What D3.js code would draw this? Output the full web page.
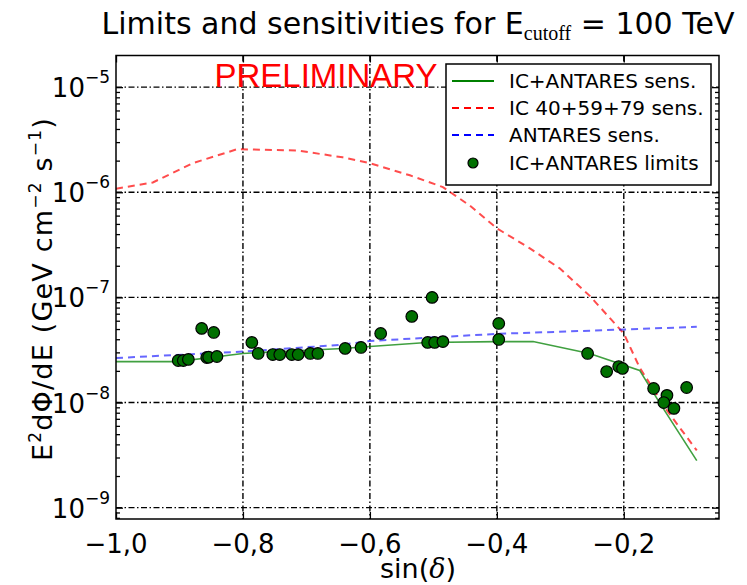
<!DOCTYPE html>
<html><head><meta charset="utf-8">
<script src="https://cdn.jsdelivr.net/npm/d3@7/dist/d3.min.js"></script>
<style>body{margin:0;background:#fff}svg{display:block}</style>
</head><body>
<svg id="chart" width="747" height="585"></svg>
<script>
// ---------- data ----------
const xTicks = [-1.0, -0.8, -0.6, -0.4, -0.2];
const xTickLabels = ["\u22121,0", "\u22120,8", "\u22120,6", "\u22120,4", "\u22120,2"];
const yTicks = [1e-9, 1e-8, 1e-7, 1e-6, 1e-5];
const yTickExps = ["\u22129", "\u22128", "\u22127", "\u22126", "\u22125"];
const legendNames = ["IC+ANTARES sens.", "IC 40+59+79 sens.", "ANTARES sens.", "IC+ANTARES limits"];

// IC+ANTARES sensitivity (green solid)
const combSensSin = [-1.0, -0.904, -0.8, -0.643, -0.6, -0.51, -0.4, -0.343, -0.254, -0.175, -0.143, -0.085];
const combSensVal = [2.45e-8, 2.45e-8, 2.93e-8, 3.27e-8, 3.41e-8, 3.73e-8, 3.8e-8, 3.8e-8, 2.93e-8, 2.02e-8, 9.8e-9, 2.8e-9];

// IC 40+59+79 sensitivity (red dashed)
const icSensSin = [-1.0, -0.942, -0.879, -0.809, -0.715, -0.643, -0.6, -0.537, -0.485, -0.443, -0.4, -0.348, -0.301, -0.254, -0.2, -0.175, -0.132, -0.085];
const icSensVal = [1.08e-6, 1.24e-6, 1.89e-6, 2.57e-6, 2.5e-6, 2.15e-6, 1.89e-6, 1.45e-6, 1.12e-6, 7.5e-7, 4.54e-7, 2.93e-7, 1.89e-7, 1.04e-7, 4.54e-8, 2.15e-8, 8.4e-9, 3.5e-9];

// ANTARES sensitivity (blue dashed)
const antSensSin = [-1.0, -0.8, -0.643, -0.6, -0.4, -0.2, -0.085];
const antSensVal = [2.65e-8, 3.05e-8, 3.55e-8, 3.85e-8, 4.5e-8, 4.95e-8, 5.25e-8];

// IC+ANTARES limits (green points)
const limitSin = [-0.902, -0.894, -0.886, -0.865, -0.857, -0.854, -0.846, -0.841, -0.786, -0.776, -0.753, -0.742, -0.723, -0.713, -0.694, -0.682, -0.639, -0.614, -0.583, -0.534, -0.502, -0.509, -0.498, -0.485, -0.397, -0.397, -0.257, -0.227, -0.208, -0.202, -0.153, -0.132, -0.137, -0.121, -0.101];
const limitVal = [2.51e-8, 2.51e-8, 2.57e-8, 5.07e-8, 2.68e-8, 2.7e-8, 4.64e-8, 2.74e-8, 3.73e-8, 2.93e-8, 2.86e-8, 2.86e-8, 2.86e-8, 2.86e-8, 2.93e-8, 2.93e-8, 3.27e-8, 3.34e-8, 4.54e-8, 6.59e-8, 1.0e-7, 3.73e-8, 3.73e-8, 3.8e-8, 5.65e-8, 3.98e-8, 2.93e-8, 1.97e-8, 2.2e-8, 2.11e-8, 1.36e-8, 1.17e-8, 1.0e-8, 8.8e-9, 1.39e-8];

// ---------- layout ----------
const svg = d3.select("#chart");
const L = 116, R = 719, T = 55.5, B = 519;
const x = d3.scaleLinear().domain([-1.0, -0.05]).range([L, R]);
const y = d3.scaleLog().domain([7.8e-10, 2e-5]).range([B, T]);
const FONT = "DejaVu Sans, sans-serif";

// gridlines
const grid = svg.append("g").attr("stroke", "#000").attr("stroke-width", 1.4)
  .attr("stroke-dasharray", "6,2.5,1.5,2.5").attr("fill", "none");
grid.selectAll("line.v").data(xTicks.slice(1)).join("line")
  .attr("x1", d => x(d)).attr("x2", d => x(d)).attr("y1", T).attr("y2", B);
grid.selectAll("line.h").data(yTicks).join("line")
  .attr("x1", L).attr("x2", R).attr("y1", d => y(d)).attr("y2", d => y(d));

// minor ticks values
const minor = [];
for (let e = -10; e <= -5; e++) for (let k = 2; k <= 9; k++) {
  const v = k * Math.pow(10, e);
  if (v > y.domain()[0] && v < y.domain()[1]) minor.push(v);
}
const ticksG = svg.append("g");
ticksG.append("g").attr("transform", `translate(${L},0)`)
  .call(d3.axisRight(y).tickValues(minor).tickSize(4).tickFormat(""))
  .call(g => g.select(".domain").remove());
ticksG.append("g").attr("transform", `translate(${R},0)`)
  .call(d3.axisLeft(y).tickValues(minor).tickSize(4).tickFormat(""))
  .call(g => g.select(".domain").remove());
ticksG.append("g").attr("transform", `translate(${L},0)`)
  .call(d3.axisRight(y).tickValues(yTicks).tickSize(7).tickFormat(""))
  .call(g => g.select(".domain").remove());
ticksG.append("g").attr("transform", `translate(${R},0)`)
  .call(d3.axisLeft(y).tickValues(yTicks).tickSize(7).tickFormat(""))
  .call(g => g.select(".domain").remove());
ticksG.append("g").attr("transform", `translate(0,${B})`)
  .call(d3.axisTop(x).tickValues(xTicks).tickSize(7).tickFormat(""))
  .call(g => g.select(".domain").remove());
ticksG.append("g").attr("transform", `translate(0,${T})`)
  .call(d3.axisBottom(x).tickValues(xTicks).tickSize(7).tickFormat(""))
  .call(g => g.select(".domain").remove());
ticksG.selectAll("line").attr("stroke", "#000").attr("stroke-width", 1.3);

// PRELIMINARY
svg.append("text").attr("x", 326).attr("y", 87).attr("text-anchor", "middle")
  .attr("font-family", "Liberation Sans, Arial, sans-serif").attr("font-size", 33)
  .attr("fill", "#ff0000").text("PRELIMINARY");

// series lines
const line = d3.line().x(d => x(d[0])).y(d => y(d[1]));
const plotG = svg.append("g");
plotG.append("path").datum(icSensSin.map((s, i) => [s, icSensVal[i]]))
  .attr("d", line).attr("fill", "none").attr("stroke", "#ff0000").attr("stroke-opacity", 0.7)
  .attr("stroke-width", 2).attr("stroke-dasharray", "7,5");
plotG.append("path").datum(antSensSin.map((s, i) => [s, antSensVal[i]]))
  .attr("d", line).attr("fill", "none").attr("stroke", "#0000ff").attr("stroke-opacity", 0.6)
  .attr("stroke-width", 2).attr("stroke-dasharray", "7,5");
plotG.append("path").datum(combSensSin.map((s, i) => [s, combSensVal[i]]))
  .attr("d", line).attr("fill", "none").attr("stroke", "#008000").attr("stroke-opacity", 0.75)
  .attr("stroke-width", 1.6);
plotG.selectAll("circle").data(limitSin.map((s, i) => [s, limitVal[i]])).join("circle")
  .attr("cx", d => x(d[0])).attr("cy", d => y(d[1])).attr("r", 5.8)
  .attr("fill", "#007000").attr("stroke", "#000").attr("stroke-width", 1.2);

// frame
svg.append("rect").attr("x", L).attr("y", T).attr("width", R - L).attr("height", B - T)
  .attr("fill", "none").attr("stroke", "#000").attr("stroke-width", 1.5);

// tick labels
svg.append("g").selectAll("text").data(xTicks).join("text")
  .attr("x", d => x(d)).attr("y", 553).attr("text-anchor", "middle")
  .attr("font-family", FONT).attr("font-size", 26).attr("fill", "#000")
  .text((d, i) => xTickLabels[i]);
const yl = svg.append("g").selectAll("text").data(yTicks).join("text")
  .attr("x", 110).attr("y", d => y(d) + 10).attr("text-anchor", "end")
  .attr("font-family", FONT).attr("font-size", 26).attr("fill", "#000");
yl.append("tspan").text("10");
yl.append("tspan").attr("dy", -14).attr("font-size", 17).text((d, i) => yTickExps[i]);

// axis labels
svg.append("text").attr("x", 418).attr("y", 578).attr("text-anchor", "middle")
  .attr("font-family", FONT).attr("font-size", 27)
  .html('sin(<tspan font-style="italic" font-family="DejaVu Serif, serif">δ</tspan>)');
const ylab = svg.append("text").attr("transform", "translate(52,289) rotate(-90)")
  .attr("text-anchor", "middle").attr("font-family", FONT).attr("font-size", 27)
  .attr("letter-spacing", 1.2);
ylab.append("tspan").text("E");
ylab.append("tspan").attr("dy", -11).attr("font-size", 17).text("2");
ylab.append("tspan").attr("dy", 11).text("dΦ/dE (GeV cm");
ylab.append("tspan").attr("dy", -11).attr("font-size", 17).text("\u22122");
ylab.append("tspan").attr("dy", 11).text(" s");
ylab.append("tspan").attr("dy", -11).attr("font-size", 17).text("\u22121");
ylab.append("tspan").attr("dy", 11).text(")");

// title
const title = svg.append("text").attr("x", 418).attr("y", 34).attr("text-anchor", "middle")
  .attr("font-family", FONT).attr("font-size", 30).attr("fill", "#000");
title.append("tspan").text("Limits and sensitivities for E");
title.append("tspan").attr("dy", 6).attr("font-size", 20).attr("font-family", "Liberation Serif, serif").text("cutoff");
title.append("tspan").attr("dy", -6).text(" = 100 TeV");

// legend
const lg = svg.append("g");
lg.append("rect").attr("x", 446).attr("y", 64).attr("width", 265).attr("height", 121)
  .attr("fill", "#fff").attr("stroke", "#000").attr("stroke-width", 1.5);
const rowsY = [81, 108, 135, 163];
const styles = [
  {c: "#008000", dash: null},
  {c: "#ff0000", dash: "7,5"},
  {c: "#0000ff", dash: "7,5"},
  {c: null}
];
styles.forEach((s, i) => {
  if (s.c) {
    lg.append("line").attr("x1", 452).attr("x2", 494).attr("y1", rowsY[i]).attr("y2", rowsY[i])
      .attr("stroke", s.c).attr("stroke-width", 2).attr("stroke-dasharray", s.dash);
  } else {
    lg.append("circle").attr("cx", 473).attr("cy", rowsY[i]).attr("r", 5)
      .attr("fill", "#007000").attr("stroke", "#000").attr("stroke-width", 1.2);
  }
  lg.append("text").attr("x", 509).attr("y", rowsY[i] + 7).attr("font-family", FONT)
    .attr("font-size", 20).attr("fill", "#000").text(legendNames[i]);
});
</script>
</body></html>
